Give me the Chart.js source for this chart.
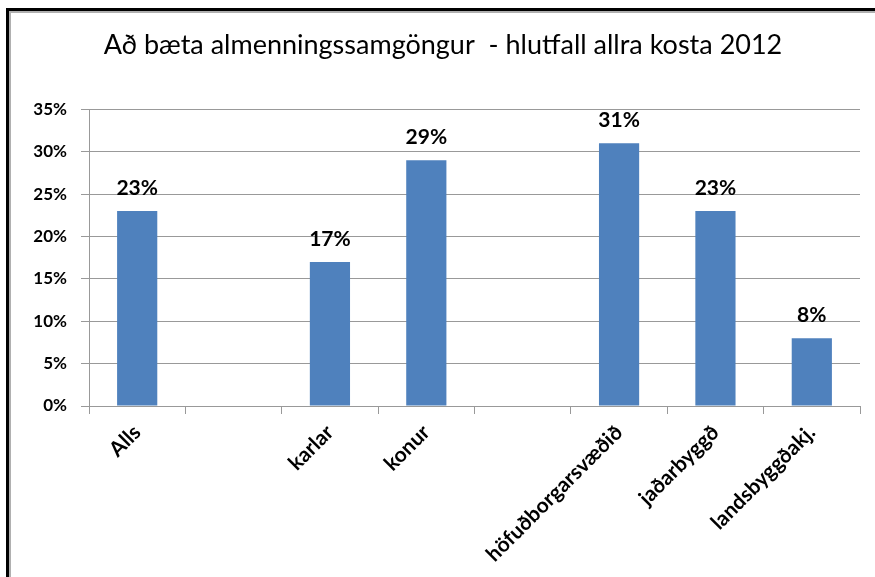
<!DOCTYPE html>
<html>
<head>
<meta charset="utf-8">
<script src="https://cdn.jsdelivr.net/npm/chart.js@4"></script>
<style>
  html, body { margin: 0; padding: 0; background: #fff; }
  #wrap { position: relative; width: 875px; height: 577px; overflow: hidden; }
  #frame1 { position: absolute; left: 6px; top: 8px; right: -10px; bottom: -10px; border-left: 3px solid #000; border-top: 3px solid #000; }
  #frame2 { position: absolute; left: 0; top: 0; right: 0; bottom: 0; border-left: 2px solid #b0b0b0; border-top: 2px solid #b0b0b0; }
  canvas { position: absolute; left: 0; top: 0; }
</style>
</head>
<body>
<div id="wrap">
  <div id="frame1"><div id="frame2"></div></div>
  <canvas id="c" width="875" height="577"></canvas>
</div>
<script>
const categories = ["Alls", "", "karlar", "konur", "", "höfuðborgarsvæðið", "jaðarbyggð", "landsbyggðakj."];
const values = [23, null, 17, 29, null, 31, 23, 8];
const yTicks = [0, 5, 10, 15, 20, 25, 30, 35];
const titleText = "Að bæta almenningssamgöngur  - hlutfall allra kosta 2012";

const FONT = "Lato, 'Liberation Sans', sans-serif";

const valueLabels = {
  id: 'valueLabels',
  afterDatasetsDraw(chart) {
    const ctx = chart.ctx;
    const meta = chart.getDatasetMeta(0);
    ctx.save();
    ctx.font = "bold 21px " + FONT;
    ctx.fillStyle = "#000";
    ctx.textAlign = "center";
    ctx.textBaseline = "alphabetic";
    meta.data.forEach((bar, i) => {
      const v = values[i];
      if (v === null || v === undefined) return;
      ctx.fillText(v + "%", bar.x, bar.y - 16);
    });
    ctx.restore();
  }
};

new Chart(document.getElementById('c'), {
  type: 'bar',
  data: {
    labels: categories,
    datasets: [{
      data: values,
      backgroundColor: '#4F81BD',
      borderWidth: 0,
      barPercentage: 0.417,
      categoryPercentage: 1.0
    }]
  },
  options: {
    responsive: false,
    animation: false,
    layout: { padding: { top: 20, right: 15, left: 26, bottom: 0 } },
    plugins: {
      legend: { display: false },
      tooltip: { enabled: false },
      title: {
        display: true,
        text: titleText,
        color: '#000',
        font: { family: FONT, size: 27, weight: 'normal' },
        padding: { top: 9, bottom: 48 }
      }
    },
    scales: {
      x: {
        offset: true,
        grid: { display: true, drawOnChartArea: false, drawTicks: true, tickLength: 8, offset: true, color: '#999' },
        border: { display: true, color: '#999' },
        ticks: {
          autoSkip: false,
          maxRotation: 45,
          minRotation: 45,
          padding: 6,
          color: '#000',
          font: { family: FONT, size: 21, weight: 'bold' }
        },
        afterFit(scale) { scale.height = 171; }
      },
      y: {
        min: 0,
        max: 35,
        afterBuildTicks(scale) { scale.ticks = yTicks.map(v => ({ value: v })); },
        grid: { color: '#999', drawTicks: true, tickLength: 8 },
        border: { display: true, color: '#999' },
        ticks: {
          padding: 14,
          color: '#000',
          font: { family: FONT, size: 17, weight: 'bold' },
          callback: (v) => v + '%'
        },
        afterFit(scale) { scale.width = 63; }
      }
    }
  },
  plugins: [valueLabels]
});
</script>
</body>
</html>
